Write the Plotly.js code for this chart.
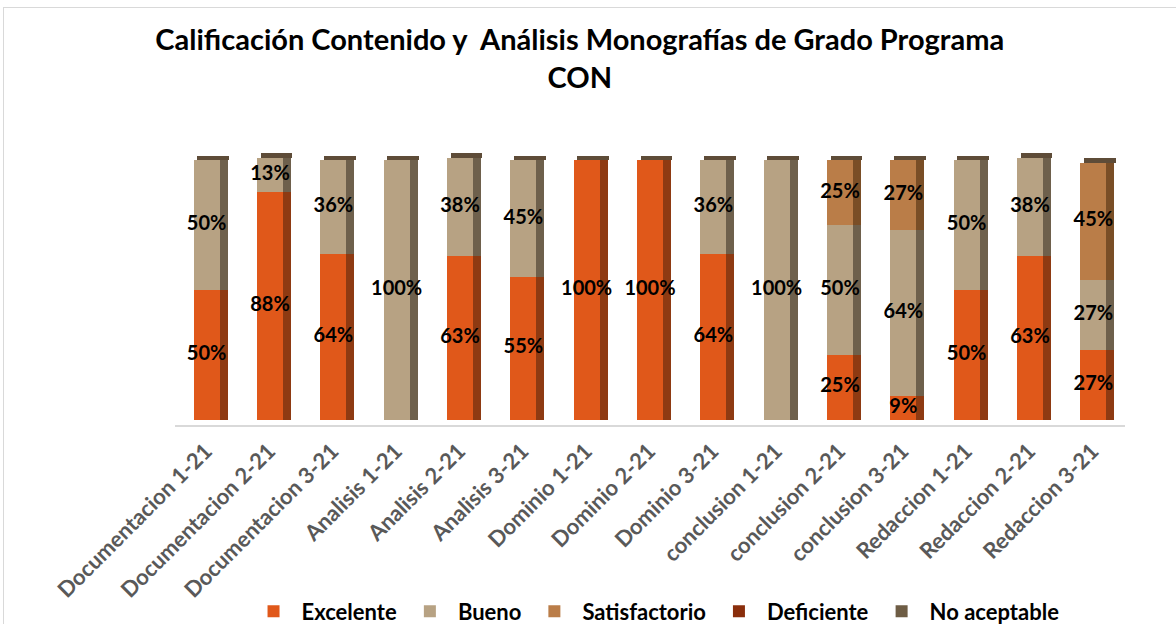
<!DOCTYPE html>
<html>
<head>
<meta charset="utf-8">
<script src="https://cdn.plot.ly/plotly-3.0.1.min.js"></script>
<style>
  html, body { margin: 0; padding: 0; background: #fff; }
  #wrap { position: absolute; left: 3px; top: 7px; width: 1180px; height: 630px; border: 1px solid #d9d9d9; box-sizing: border-box; }
  #chart { position: absolute; left: 0; top: 0; width: 1176px; height: 624px; }
</style>
</head>
<body>
<div id="wrap"></div>
<div id="chart"></div>
<script>
var categories = ["Documentacion 1-21", "Documentacion 2-21", "Documentacion 3-21", "Analisis 1-21", "Analisis 2-21", "Analisis 3-21", "Dominio 1-21", "Dominio 2-21", "Dominio 3-21", "conclusion 1-21", "conclusion 2-21", "conclusion 3-21", "Redaccion 1-21", "Redaccion 2-21", "Redaccion 3-21"];
var excelente     = [50, 88, 64, 0, 63, 55, 100, 100, 64, 0, 25, 9, 50, 63, 27];
var bueno         = [50, 13, 36, 100, 38, 45, 0, 0, 36, 100, 50, 64, 50, 38, 27];
var satisfactorio = [0, 0, 0, 0, 0, 0, 0, 0, 0, 0, 25, 27, 0, 0, 45];
var deficiente    = [0, 0, 0, 0, 0, 0, 0, 0, 0, 0, 0, 0, 0, 0, 0];
var noAceptable   = [0, 0, 0, 0, 0, 0, 0, 0, 0, 0, 0, 0, 0, 0, 0];

var seriesNames = ["Excelente", "Bueno", "Satisfactorio", "Deficiente", "No aceptable"];
var seriesData = [excelente, bueno, satisfactorio, deficiente, noAceptable];
var frontColors = ["#E0581A", "#B7A283", "#BA7D48", "#8A2E0C", "#6E5D45"];
var sideColors  = ["#8E3A12", "#6E604C", "#7A4E26", "#5A1E08", "#4A3E2E"];

var FONT = "Lato, 'Open Sans', sans-serif";
var FRONT_W = 0.41, SIDE_W = 0.125;

var traces = [];
seriesData.forEach(function (vals, i) {
  traces.push({
    type: 'bar', name: seriesNames[i], x: categories, y: vals,
    width: FRONT_W, marker: { color: frontColors[i], line: { width: 0 } },
    hoverinfo: 'x+y+name'
  });
});
seriesData.forEach(function (vals, i) {
  traces.push({
    type: 'bar', name: seriesNames[i] + ' side', x: categories, y: vals,
    xaxis: 'x2', yaxis: 'y2', width: SIDE_W, offset: FRONT_W / 2,
    marker: { color: sideColors[i], line: { width: 0 } },
    showlegend: false, hoverinfo: 'skip'
  });
});
var totals = categories.map(function (c, k) {
  return seriesData.reduce(function (s, arr) { return s + arr[k]; }, 0);
});
traces.push({
  type: 'bar', x: categories, y: categories.map(function () { return 1.8; }),
  base: totals, xaxis: 'x3', yaxis: 'y3',
  width: FRONT_W + SIDE_W - 0.04, offset: -FRONT_W / 2 + 0.06,
  marker: { color: '#5E4C38', line: { width: 0 } },
  showlegend: false, hoverinfo: 'skip'
});
seriesData.forEach(function (vals, i) {
  var xs = [], ys = [], ts = [];
  vals.forEach(function (v, k) {
    if (v > 0) {
      var below = 0;
      for (var j = 0; j < i; j++) below += seriesData[j][k];
      xs.push(categories[k]); ys.push(below + v / 2); ts.push('<b>' + v + '%</b>');
    }
  });
  traces.push({
    type: 'scatter', mode: 'text', x: xs, y: ys, text: ts,
    textfont: { family: FONT, size: 20, color: '#000' },
    xaxis: 'x4', yaxis: 'y4', showlegend: false, hoverinfo: 'skip', cliponaxis: false
  });
});

var yr = [-2, 104];
var xr = [-0.5, 14.5];
function hiddenX() { return { range: xr, overlaying: 'x', visible: false, type: 'category', categoryorder: 'array', categoryarray: categories }; }
function hiddenY() { return { range: yr, overlaying: 'y', visible: false }; }

var layout = {
  width: 1176, height: 624,
  paper_bgcolor: 'rgba(0,0,0,0)', plot_bgcolor: 'rgba(0,0,0,0)',
  margin: { l: 175, r: 51, t: 150, b: 199 },
  barmode: 'stack',
  title: {
    text: '<b>Calificación Contenido y  Análisis Monografías de Grado Programa<br>CON</b>',
    font: { family: FONT, size: 29, color: '#000' },
    x: 0.493, xref: 'container', xanchor: 'center',
    y: 0.92, yref: 'container', yanchor: 'top'
  },
  font: { family: FONT },
  xaxis: {
    type: 'category', range: xr, tickangle: -45, categoryorder: 'array', categoryarray: categories,
    tickfont: { family: FONT, size: 22, color: '#595959', weight: 'bold' },
    ticklabelstandoff: 3, ticklabelshift: -1,
    showline: true, linecolor: '#D9D9D9', linewidth: 1.5,
    ticks: '', showgrid: false, zeroline: false, fixedrange: true
  },
  yaxis: { range: yr, visible: false, showgrid: false, zeroline: false, fixedrange: true },
  xaxis2: hiddenX(), yaxis2: hiddenY(),
  xaxis3: hiddenX(), yaxis3: hiddenY(),
  xaxis4: hiddenX(), yaxis4: hiddenY(),
  legend: {
    orientation: 'h', xref: 'container', yref: 'container',
    x: 0.557, xanchor: 'center', y: 0.02, yanchor: 'middle',
    font: { family: FONT, size: 22, color: '#000', weight: 'bold' },
    itemwidth: 46, traceorder: 'normal'
  },
  showlegend: true
};

Plotly.newPlot('chart', traces, layout, { displayModeBar: false, staticPlot: true });
</script>
</body>
</html>
